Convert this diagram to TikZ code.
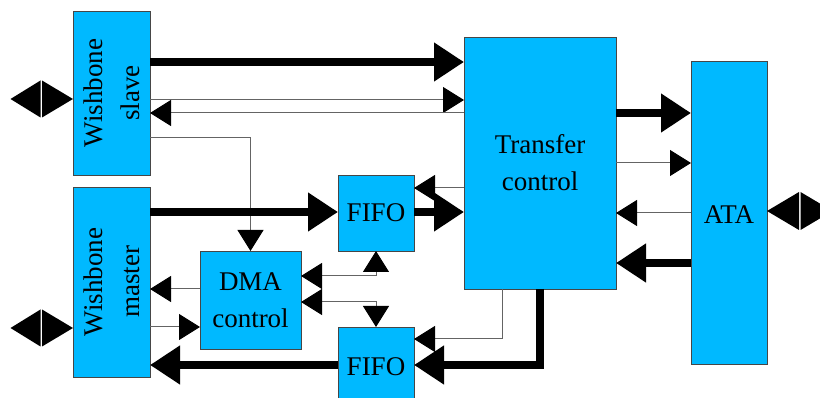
\documentclass[tikz,border=0pt]{standalone}
\usepackage{fontspec}
\setmainfont{Liberation Serif}
\usetikzlibrary{arrows.meta}

\definecolor{blockblue}{RGB}{0,185,255}
\definecolor{edgegray}{RGB}{70,70,70}
\definecolor{wiregray}{RGB}{100,100,100}

\tikzset{
  Thn/.tip={Triangle[length=21pt,width=26pt,color=black]},
  Thk/.tip={Triangle[length=30pt,width=37pt,color=black]},
  block/.style={draw=edgegray, line width=0.9pt, fill=blockblue,
    inner sep=0pt, outer sep=0pt},
  lbl/.style={inner sep=0pt, font=\fontsize{27}{37}\selectfont, align=center},
  thinwire/.style={draw=wiregray, line width=1pt},
  thickwire/.style={draw=black, line width=8pt},
}

\begin{document}
\begin{tikzpicture}[x=1pt, y=-1pt]
  \clip (0,0) rectangle (820,398);
  \fill[white] (0,0) rectangle (820,398);

  % blocks
  \node[block, minimum width=77pt, minimum height=164pt] (wbs) at (111.5,93) {};
  \node[block, minimum width=77pt, minimum height=190pt] (wbm) at (111.5,282) {};
  \node[block, minimum width=101pt, minimum height=98pt] (dma) at (250.5,300) {};
  \node[block, minimum width=76pt, minimum height=76pt] (fifoa) at (376,213) {};
  \node[block, minimum width=76pt, minimum height=80pt] (fifob) at (376,367) {};
  \node[block, minimum width=152pt, minimum height=252pt] (tc) at (540,163) {};
  \node[block, minimum width=76pt, minimum height=303pt] (ata) at (729,212.5) {};

  % labels
  \node[lbl, rotate=90] (wbsT) at (wbs.center) {Wishbone\\slave};
  \node[lbl, rotate=90] (wbmT) at (wbm.center) {Wishbone\\master};
  \node[lbl] (dmaT) at (dma.center) {DMA\\control};
  \node[lbl] (fifoaT) at (fifoa.center) {FIFO};
  \node[lbl] (fifobT) at (376,367) {FIFO};
  \node[lbl] (tcT) at (tc.center) {Transfer\\control};
  \node[lbl] (ataT) at (729,215) {ATA};

  % external bidirectional ports
  \fill (wbs.west |- 0,99) -- ++(-31,-18.5) -- ++(0,37) -- cycle;
  \fill (wbs.west |- 0,99) ++(-32.5,0) -- ++(0,-18.5) -- ++(-30,18.5) -- ++(30,18.5) -- cycle;
  \fill (wbm.west |- 0,328) -- ++(-31,-18.5) -- ++(0,37) -- cycle;
  \fill (wbm.west |- 0,328) ++(-32.5,0) -- ++(0,-18.5) -- ++(-30,18.5) -- ++(30,18.5) -- cycle;
  \fill (ata.east |- 0,211) -- ++(32,-19) -- ++(0,38) -- cycle;
  \fill (ata.east |- 0,211) ++(33.5,0) -- ++(0,-19) -- ++(32,19) -- ++(-32,19) -- cycle;

  % slave <-> transfer control
  \draw[thickwire, -Thk] (wbs.east |- 0,62) -- (tc.west |- 0,62);
  \draw[thinwire, -Thn] (wbs.east |- 0,100) -- (tc.west |- 0,100);
  \draw[thinwire, -Thn] (tc.west |- 0,113) -- (wbs.east |- 0,113);
  \draw[thinwire, -Thn] (wbs.east |- 0,138) -| (dma.north);

  % master -> FIFO -> transfer control
  \draw[thickwire, -Thk] (wbm.east |- 0,212) -- (fifoa.west |- 0,212);
  \draw[thickwire, -Thk] (fifoa.east |- 0,212) -- (tc.west |- 0,212);
  \draw[thinwire, -Thn] (tc.west |- 0,188) -- (fifoa.east |- 0,188);

  % DMA control
  \draw[thinwire, -Thn] (dma.west |- 0,289) -- (wbm.east |- 0,289);
  \draw[thinwire, -Thn] (wbm.east |- 0,327) -- (dma.west |- 0,327);
  \draw[thinwire, Thn-Thn] (dma.east |- 0,276) -| (fifoa.south);
  \draw[thinwire, Thn-Thn] (dma.east |- 0,302) -| (fifob.north);

  % transfer control -> FIFO -> master
  \draw[thinwire, -Thn] (tc.south -| 502,0) |- (fifob.east |- 0,339);
  \draw[thickwire, -Thk] (tc.south) |- (fifob.east |- 0,365);
  \draw[thickwire, -Thk] (fifob.west |- 0,365) -- (wbm.east |- 0,365);

  % transfer control <-> ATA
  \draw[thickwire, -Thk] (tc.east |- 0,113) -- (ata.west |- 0,113);
  \draw[thinwire, -Thn] (tc.east |- 0,163) -- (ata.west |- 0,163);
  \draw[thinwire, -Thn] (ata.west |- 0,213) -- (tc.east |- 0,213);
  \draw[thickwire, -Thk] (ata.west |- 0,263) -- (tc.east |- 0,263);
\end{tikzpicture}
\end{document}
